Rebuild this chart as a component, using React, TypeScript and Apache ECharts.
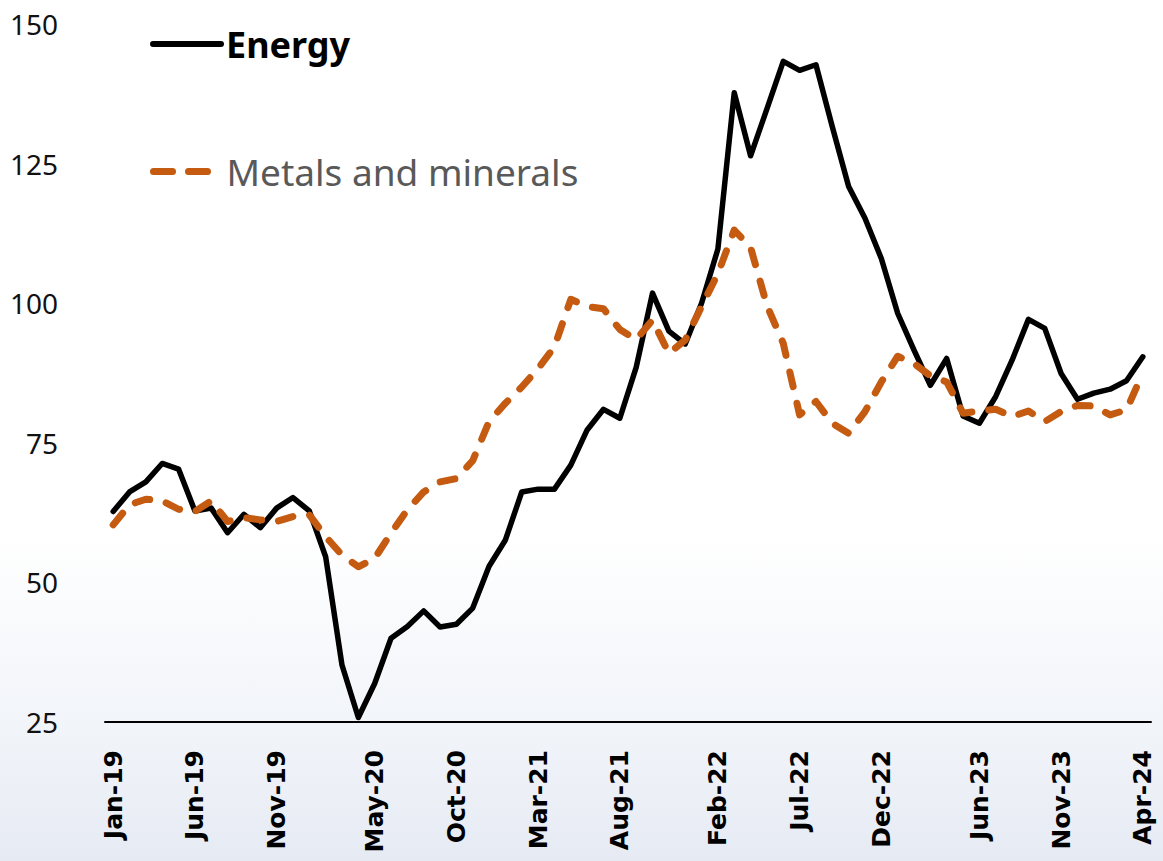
import React, { useEffect, useRef } from "react";
import * as echarts from "echarts";

const monthNames = ["Jan", "Feb", "Mar", "Apr", "May", "Jun", "Jul", "Aug", "Sep", "Oct", "Nov", "Dec"];
const years = ["19", "20", "21", "22", "23", "24"];
const lastMonthCount = 64; // Jan-19 .. Apr-24

const categories: string[] = [];
for (const y of years) {
  for (const m of monthNames) {
    if (categories.length < lastMonthCount) categories.push(`${m}-${y}`);
  }
}

const shownTicks = [
  "Jan-19", "Jun-19", "Nov-19", "May-20", "Oct-20", "Mar-21", "Aug-21",
  "Feb-22", "Jul-22", "Dec-22", "Jun-23", "Nov-23", "Apr-24",
];

const energy = [
  62.7, 66.2, 68.0, 71.3, 70.3, 62.8, 63.3, 58.9, 62.2, 59.8, 63.3, 65.2,
  62.8, 54.6, 35.2, 25.8, 31.9, 40.0, 42.1, 44.9, 42.0, 42.5, 45.4, 52.9,
  57.6, 66.2, 66.7, 66.7, 71.0, 77.3, 81.0, 79.4, 88.5, 101.8, 95.0, 92.7,
  100.0, 109.7, 137.7, 126.4, 134.8, 143.3, 141.7, 142.7, 131.6, 120.9, 115.2, 108.0,
  98.2, 91.6, 85.3, 90.1, 79.8, 78.5, 83.3, 89.8, 97.1, 95.5, 87.4, 82.8,
  83.9, 84.6, 86.1, 90.4,
];

const metals = [
  60.3, 63.9, 64.9, 64.6, 63.1, 62.7, 64.6, 60.9, 61.6, 61.2, 60.9, 61.8,
  62.1, 58.2, 54.9, 52.8, 54.3, 58.8, 63.0, 66.2, 68.0, 68.6, 71.8, 78.8,
  82.1, 85.0, 88.3, 92.2, 100.7, 99.4, 99.0, 95.3, 93.5, 97.0, 91.0, 93.4,
  99.4, 105.3, 113.1, 110.0, 99.6, 92.8, 80.0, 82.4, 78.5, 76.7, 80.6, 85.9,
  90.5, 89.2, 87.0, 85.9, 80.3, 80.7, 81.0, 79.7, 80.7, 78.8, 80.6, 81.7,
  81.6, 80.0, 80.9, 87.5,
];

const yTicks = { min: 25, max: 150, interval: 25 };

const ENERGY_COLOR = "#000000";
const METALS_COLOR = "#c55a11";

export default function App() {
  const ref = useRef<HTMLDivElement>(null);

  useEffect(() => {
    document.body.style.margin = "0";
    if (!ref.current) return;
    const chart = echarts.init(ref.current, undefined, { renderer: "svg" });
    chart.setOption({
      animation: false,
      backgroundColor: {
        type: "linear",
        x: 0,
        y: 0,
        x2: 0,
        y2: 1,
        colorStops: [
          { offset: 0, color: "#ffffff" },
          { offset: 0.62, color: "#ffffff" },
          { offset: 0.85, color: "#f1f4f9" },
          { offset: 1, color: "#e6eaf3" },
        ],
      },
      legend: [
        {
          data: ["Energy"],
          left: 145,
          top: 21,
          itemWidth: 68,
          itemHeight: 24,
          itemStyle: { opacity: 0 },
          lineStyle: { color: ENERGY_COLOR, width: 6, cap: "round", type: "solid" },
          textStyle: { fontFamily: "Noto Sans", fontSize: 36, fontWeight: "bold", color: "#000000" },
          selectedMode: false,
        },
        {
          data: ["Metals and minerals"],
          left: 145,
          top: 148,
          itemWidth: 68,
          itemHeight: 24,
          itemStyle: { opacity: 0 },
          lineStyle: { color: METALS_COLOR, width: 7, cap: "round", type: [19, 16] },
          textStyle: { fontFamily: "Noto Sans", fontSize: 37, color: "#595959" },
          selectedMode: false,
        },
      ],
      grid: { left: 105, right: 12, top: 24, bottom: 139, containLabel: false },
      xAxis: {
        type: "category",
        data: categories,
        boundaryGap: true,
        axisLine: { show: true, lineStyle: { color: "#000000", width: 2 } },
        axisTick: { show: false },
        splitLine: { show: false },
        axisLabel: {
          interval: (_idx: number, value: string) => shownTicks.includes(value),
          rotate: 90,
          margin: 28,
          fontFamily: "DejaVu Sans",
          fontWeight: "bold",
          fontSize: 25,
          color: "#000000",
        },
      },
      yAxis: {
        type: "value",
        min: yTicks.min,
        max: yTicks.max,
        interval: yTicks.interval,
        axisLine: { show: false },
        axisTick: { show: false },
        splitLine: { show: false },
        axisLabel: {
          margin: 47,
          fontFamily: "Noto Sans",
          fontSize: 28,
          color: "#111111",
        },
      },
      series: [
        {
          name: "Energy",
          type: "line",
          data: energy,
          symbol: "none",
          showSymbol: false,
          z: 2,
          lineStyle: { color: ENERGY_COLOR, width: 5.5, join: "round", cap: "round" },
          itemStyle: { color: ENERGY_COLOR },
        },
        {
          name: "Metals and minerals",
          type: "line",
          data: metals,
          symbol: "none",
          showSymbol: false,
          z: 3,
          lineStyle: { color: METALS_COLOR, width: 7, type: [15, 17], cap: "round", join: "round" },
          itemStyle: { color: METALS_COLOR },
        },
      ],
    });
    return () => chart.dispose();
  }, []);

  return (
    <div
      ref={ref}
      style={{ position: "absolute", left: 0, top: 0, width: 1163, height: 861 }}
    />
  );
}
